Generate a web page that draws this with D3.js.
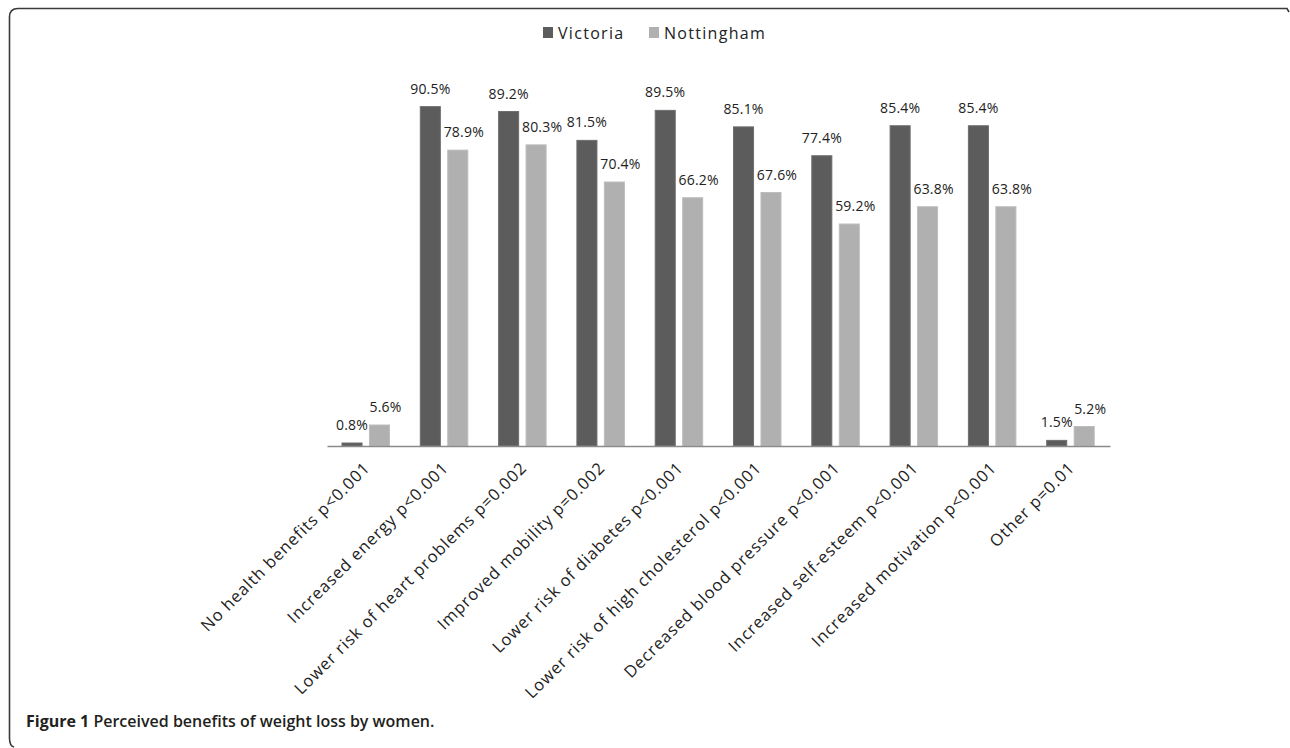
<!DOCTYPE html>
<html><head><meta charset="utf-8">
<script src="https://cdn.jsdelivr.net/npm/d3@7"></script>
<style>body{margin:0;background:#fff}svg{display:block}</style>
</head><body>
<svg id="chart" width="1290" height="748"></svg>
<script>
const categories = [
  "No health benefits p<0.001",
  "Increased energy p<0.001",
  "Lower risk of heart problems p=0.002",
  "Improved mobility p=0.002",
  "Lower risk of diabetes p<0.001",
  "Lower risk of high cholesterol p<0.001",
  "Decreased blood pressure p<0.001",
  "Increased self-esteem p<0.001",
  "Increased motivation p<0.001",
  "Other p=0.01"
];
const seriesNames = ["Victoria", "Nottingham"];
const victoria = [0.8, 90.5, 89.2, 81.5, 89.5, 85.1, 77.4, 85.4, 85.4, 1.5];
const nottingham = [5.6, 78.9, 80.3, 70.4, 66.2, 67.6, 59.2, 63.8, 63.8, 5.2];
const captionBold = "Figure 1";
const captionText = " Perceived benefits of weight loss by women.";

const colors = {Victoria: "#5c5c5c", Nottingham: "#b0b0b0"};
const labelDx = {Victoria: 0, Nottingham: 6};

const svg = d3.select("#chart");

// frame
svg.append("path")
  .attr("d", "M1289,12 L1287,8.5 L18,8.5 Q9.5,8.5 9.5,17 L9.5,738 Q9.5,746 14,747")
  .attr("fill", "none").attr("stroke", "#3a3a3a").attr("stroke-width", 1.6);

const x = d3.scaleBand().domain(categories).range([327, 1110]).padding(0);
const xs = d3.scaleBand().domain(seriesNames).range([15, 62.5]).paddingInner(0.27);
const y = d3.scaleLinear().domain([0, 100]).range([446, 71]);

const data = categories.map((c, i) => ({cat: c, vals: [
  {s: "Victoria", v: victoria[i]}, {s: "Nottingham", v: nottingham[i]}]}));

const g = svg.selectAll("g.grp").data(data).join("g")
  .attr("class", "grp")
  .attr("transform", d => `translate(${x(d.cat)},0)`);

g.selectAll("rect").data(d => d.vals).join("rect")
  .attr("x", d => xs(d.s))
  .attr("width", xs.bandwidth())
  .attr("y", d => y(d.v))
  .attr("height", d => y(0) - y(d.v))
  .attr("fill", d => colors[d.s])
  .attr("stroke", d => d.s === "Victoria" ? "#6e6e6e" : "#bdbdbd")
  .attr("stroke-width", 1);

g.selectAll("text.val").data(d => d.vals).join("text")
  .attr("class", "val")
  .attr("x", d => xs(d.s) + xs.bandwidth() / 2 + labelDx[d.s])
  .attr("y", d => y(d.v) - 13)
  .attr("text-anchor", "middle")
  .attr("font-family", "Open Sans, sans-serif")
  .attr("font-size", 14)
  .attr("letter-spacing", "0.2px")
  .attr("fill", "#222")
  .text(d => d.v.toFixed(1) + "%");

// axis
const axis = svg.append("g")
  .attr("transform", `translate(0,${y(0)})`)
  .call(d3.axisBottom(x).tickSize(0).tickSizeOuter(0));
axis.select(".domain").attr("stroke", "#8a8a8a").attr("stroke-width", 1.5);
axis.selectAll(".tick text")
  .attr("font-family", "Open Sans, sans-serif")
  .attr("font-size", 16.5)
  .attr("letter-spacing", "0.9px")
  .attr("fill", "#222")
  .attr("text-anchor", "end")
  .attr("dy", null)
  .attr("y", 0)
  .attr("transform", "translate(5,23) rotate(-45)");

// legend
const legend = svg.append("g");
const legX = [543, 649];
seriesNames.forEach((s, i) => {
  legend.append("rect").attr("x", legX[i]).attr("y", 27).attr("width", 10).attr("height", 11)
    .attr("fill", colors[s]);
  legend.append("text").attr("x", legX[i] + 15).attr("y", 38.5)
    .attr("font-family", "Open Sans, sans-serif").attr("font-size", 16)
    .attr("letter-spacing", "1.3px").attr("fill", "#222").text(s);
});

// caption
const cap = svg.append("text").attr("x", 26).attr("y", 727)
  .attr("font-family", "Open Sans, sans-serif").attr("font-size", 16).attr("fill", "#231f20");
cap.append("tspan").attr("font-weight", 700).text(captionBold);
cap.append("tspan").attr("font-weight", 600).text(captionText);
</script>
</body></html>
